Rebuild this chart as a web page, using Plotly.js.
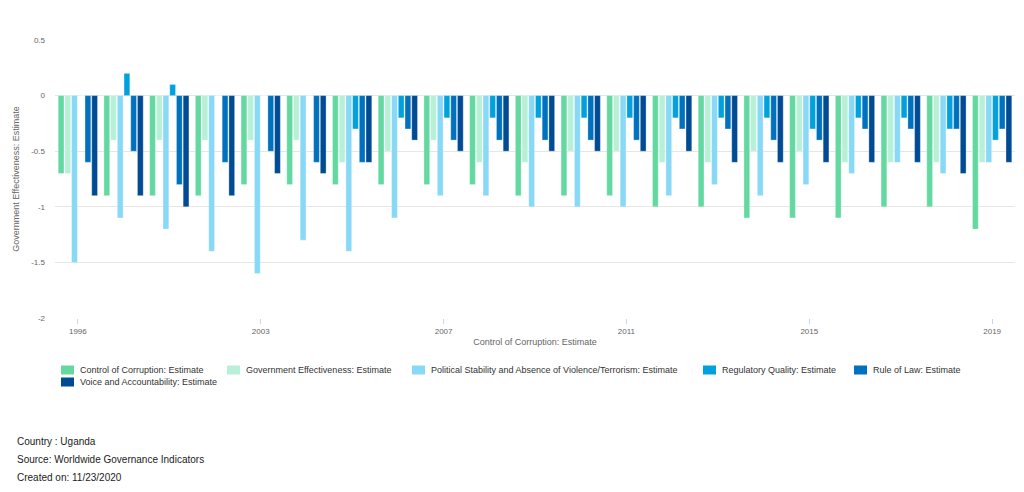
<!DOCTYPE html>
<html>
<head>
<meta charset="utf-8">
<script src="https://cdn.plot.ly/plotly-3.0.1.min.js"></script>
<style>html,body{margin:0;padding:0;background:#fff;}#chart{width:1024px;height:492px;}</style>
</head>
<body>
<div id="chart"></div>
<script>
const years = ["1996","1998","2000","2002","2003","2004","2005","2006","2007","2008","2009","2010","2011","2012","2013","2014","2015","2016","2017","2018","2019"];
const tickYears = ["1996","2003","2007","2011","2015","2019"];
const controlOfCorruption = [-0.7,-0.9,-0.9,-0.9,-0.8,-0.8,-0.8,-0.8,-0.8,-0.8,-0.9,-0.9,-0.9,-1.0,-1.0,-1.1,-1.1,-1.1,-1.0,-1.0,-1.2];
const governmentEffectiveness = [-0.7,-0.4,-0.4,-0.4,-0.4,-0.4,-0.6,-0.5,-0.4,-0.6,-0.6,-0.5,-0.5,-0.6,-0.6,-0.5,-0.5,-0.6,-0.6,-0.6,-0.6];
const politicalStability = [-1.5,-1.1,-1.2,-1.4,-1.6,-1.3,-1.4,-1.1,-0.9,-0.9,-1.0,-1.0,-1.0,-0.9,-0.8,-0.9,-0.8,-0.7,-0.6,-0.7,-0.6];
const regulatoryQuality = [0.0,0.2,0.1,0.0,0.0,0.0,-0.3,-0.2,-0.2,-0.2,-0.2,-0.2,-0.2,-0.2,-0.2,-0.2,-0.3,-0.2,-0.2,-0.3,-0.4];
const ruleOfLaw = [-0.6,-0.5,-0.8,-0.6,-0.5,-0.6,-0.6,-0.3,-0.4,-0.4,-0.4,-0.4,-0.4,-0.3,-0.3,-0.4,-0.4,-0.3,-0.3,-0.3,-0.3];
const voiceAccountability = [-0.9,-0.9,-1.0,-0.9,-0.7,-0.7,-0.6,-0.4,-0.5,-0.5,-0.5,-0.5,-0.5,-0.5,-0.6,-0.6,-0.6,-0.6,-0.6,-0.7,-0.6];

const seriesNames = ["Control of Corruption: Estimate","Government Effectiveness: Estimate","Political Stability and Absence of Violence/Terrorism: Estimate","Regulatory Quality: Estimate","Rule of Law: Estimate","Voice and Accountability: Estimate"];
const seriesValues = [controlOfCorruption, governmentEffectiveness, politicalStability, regulatoryQuality, ruleOfLaw, voiceAccountability];
const seriesColors = ["#63d9a1","#b6f1d7","#88d8f8","#00a1de","#0071bf","#004b93"];

const traces = seriesNames.map((n,i)=>({
  type:'bar', name:n, x:years, y:seriesValues[i],
  marker:{color:seriesColors[i], line:{color:'rgba(255,255,255,0.6)', width:0.5}},
  hoverinfo:'x+y+name', showlegend:false
}));

const FONT = 'Liberation Sans, Arial, sans-serif';
const ML = 55, MR = 9, MT = 40, MB = 174, W = 1024, H = 492;
const PW = W - ML - MR, PH = H - MT - MB;
const px = v => (v - ML) / PW;
const py = v => (H - MB - v) / PH;

// custom legend layout (pixel positions of swatch left edge and row centre)
const legendPos = [[61,370],[227,370],[412,370],[703,370],[854,370],[61,382]];
const shapes = [];
const annotations = [];
legendPos.forEach((p,i)=>{
  shapes.push({type:'rect', xref:'paper', yref:'paper', x0:px(p[0]), x1:px(p[0]+13), y0:py(p[1]-4.5), y1:py(p[1]+4.5), fillcolor:seriesColors[i], line:{width:0}});
  annotations.push({text:seriesNames[i], xref:'paper', yref:'paper', x:px(p[0]+17), y:py(p[1]), xanchor:'left', yanchor:'middle', showarrow:false, font:{family:FONT, size:9, color:'#333'}});
});
const footer = ['Country : Uganda','Source: Worldwide Governance Indicators','Created on: 11/23/2020'];
const footerY = [441,459,477];
footer.forEach((t,i)=>{
  annotations.push({text:t, xref:'paper', yref:'paper', x:px(15), y:py(footerY[i]), xanchor:'left', yanchor:'middle', showarrow:false, font:{family:FONT, size:10, color:'#222'}});
});

const layout = {
  width:W, height:H,
  margin:{l:ML, r:MR, t:MT, b:MB},
  paper_bgcolor:'#fff', plot_bgcolor:'#fff',
  font:{family:FONT, size:9, color:'#333'},
  barmode:'group', bargap:0.12, bargroupgap:0.14,
  showlegend:false,
  xaxis:{
    type:'category', tickvals:tickYears, ticktext:tickYears,
    ticks:'outside', ticklen:5, tickcolor:'#ccd6eb', tickwidth:1,
    showgrid:false, zeroline:false, showline:false,
    tickfont:{family:FONT, size:8, color:'#666'},
    title:{text:'Control of Corruption: Estimate', font:{family:FONT, size:9, color:'#666'}, standoff:4},
    automargin:false
  },
  yaxis:{
    range:[-2,0.5], tickvals:[-2,-1.5,-1,-0.5,0,0.5], ticktext:['-2','-1.5','-1','-0.5','0','0.5'],
    showgrid:true, gridcolor:'#e6e6e6', gridwidth:1, zeroline:false, showline:false,
    tickfont:{family:FONT, size:8, color:'#666'}, ticklabelstandoff:9,
    title:{text:'Government Effectiveness: Estimate', font:{family:FONT, size:9, color:'#666'}, standoff:10},
    automargin:false
  },
  shapes:shapes,
  annotations:annotations
};
Plotly.newPlot('chart', traces, layout, {displayModeBar:false});
</script>
</body>
</html>
